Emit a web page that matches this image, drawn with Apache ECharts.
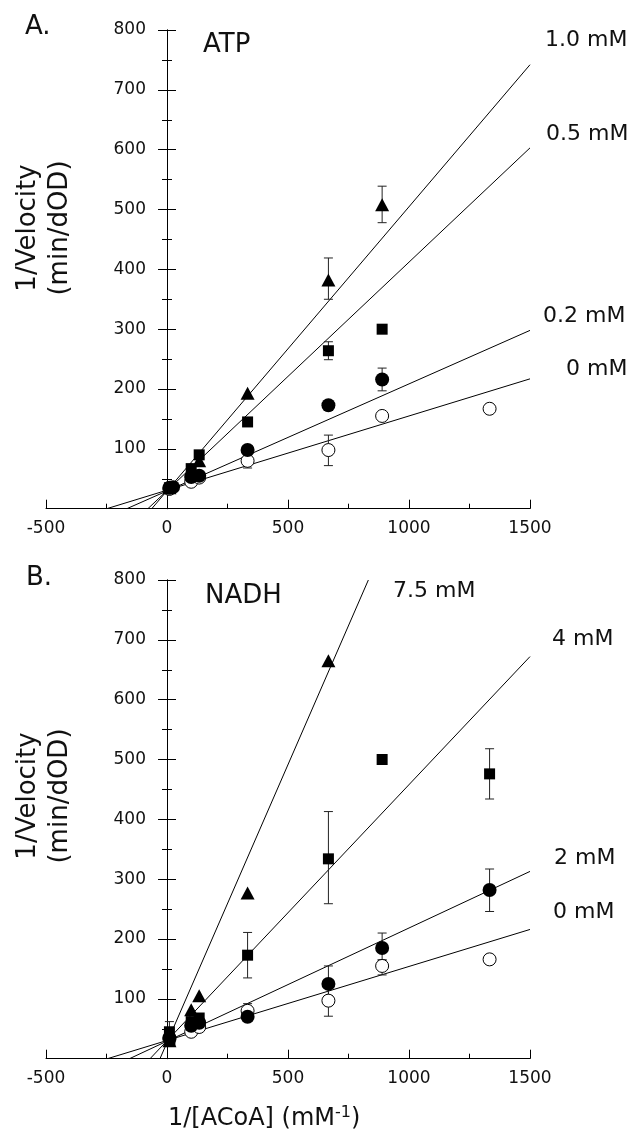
<!DOCTYPE html>
<html>
<head>
<meta charset="utf-8">
<script src="https://cdn.jsdelivr.net/npm/echarts@6/dist/echarts.min.js"></script>
<style>
html,body{margin:0;padding:0;background:#fff;}
#chart{width:644px;height:1143px;}
</style>
</head>
<body>
<div id="chart"></div>
<script>
// ---------- tick labels ----------
const xTickValues = [-500, 0, 500, 1000, 1500];
const yTickValues = [0, 100, 200, 300, 400, 500, 600, 700, 800];

// ---------- Panel A (ATP) : [1/[ACoA], 1/Velocity] ----------
const atp0   = [[10,33],[100,45],[133,52],[333,80],[667,98],[889,155],[1333,167]];
const atp02  = [[10,35],[25,36],[100,53],[133,55],[333,98],[667,173],[889,216]];
const atp05  = [[10,35],[100,67],[133,90],[333,145],[667,264],[889,300]];
const atp10  = [[10,35],[100,65],[133,80],[333,193],[667,382],[889,508]];
// error bars [x, low, high]
const atpErr = [[333,68,90],[667,72,123],[667,165,180],[889,197,235],[667,249,279],[667,350,419],[889,478,539]];
// fitted lines [x, y] endpoints
const atpFit0  = [[-249,0],[1500,217]];
const atpFit02 = [[-166,0],[1500,298]];
const atpFit05 = [[-79,0],[1500,603]];
const atpFit10 = [[-63,0],[1500,742]];
const atpLineLabels = ['1.0 mM', '0.5 mM', '0.2 mM', '0 mM'];

// ---------- Panel B (NADH) ----------
const nadh0  = [[10,33],[100,45],[133,53],[333,80],[667,97],[889,155],[1333,166]];
const nadh2  = [[10,35],[100,55],[133,60],[333,70],[667,125],[889,185],[1333,282]];
const nadh4  = [[10,45],[12,30],[100,62],[133,68],[333,173],[667,334],[889,500],[1333,476]];
const nadh75 = [[10,30],[100,82],[133,105],[333,277],[667,665]];
const nadhErr = [[10,28,62],[1333,434,518],[667,259,413],[333,135,211],[1333,246,317],[889,165,210],[667,105,155],[889,140,165],[667,71,120],[333,70,92]];
const nadhFit0  = [[-246,0],[1500,216]];
const nadhFit2  = [[-155,0],[1500,313]];
const nadhFit4  = [[-70,0],[1500,672]];
const nadhFit75 = [[-29,0],[832,800]];
const nadhLineLabels = ['7.5 mM', '4 mM', '2 mM', '0 mM'];

const panelTitles = ['ATP', 'NADH'];
const panelLetters = ['A.', 'B.'];
const yTitle = '1/Velocity\n(min/dOD)';

// ---------- styling ----------
const FONT = '"DejaVu Sans", sans-serif';
const TXT = '#111';
const PLOT_LEFT = 46, PLOT_W = 484, PLOT_H = 478.7;
const TOPS = [30, 580];
const ZERO_X = PLOT_LEFT + PLOT_W * (0 - xTickValues[0]) / (xTickValues[xTickValues.length - 1] - xTickValues[0]);

// grids 0,1: data panels; grids 2,3: the y axes placed at x = 0
const grids = [
  {left: PLOT_LEFT, width: PLOT_W, top: TOPS[0], height: PLOT_H, outerBoundsMode: 'none', containLabel: false},
  {left: PLOT_LEFT, width: PLOT_W, top: TOPS[1], height: PLOT_H, outerBoundsMode: 'none', containLabel: false},
  {left: ZERO_X, width: 10, top: TOPS[0], height: PLOT_H, outerBoundsMode: 'none', containLabel: false},
  {left: ZERO_X, width: 10, top: TOPS[1], height: PLOT_H, outerBoundsMode: 'none', containLabel: false}
];

function xAx(gi) {
  return {
    type: 'value', gridIndex: gi,
    min: xTickValues[0], max: xTickValues[xTickValues.length - 1],
    interval: xTickValues[1] - xTickValues[0],
    axisLine: {show: true, onZero: false, lineStyle: {color: '#000', width: 1}},
    axisTick: {show: true, inside: true, length: 9, lineStyle: {color: '#000'}},
    minorTick: {show: true, splitNumber: 2, length: 5, lineStyle: {color: '#000'}},
    splitLine: {show: false},
    axisLabel: {color: TXT, fontFamily: FONT, fontSize: 17, margin: 11, formatter: v => String(v)}
  };
}
function xHidden(gi) {
  return {type: 'value', gridIndex: gi, min: 0, max: 1, show: false};
}
function yHidden(gi) {
  return {type: 'value', gridIndex: gi, min: yTickValues[0], max: yTickValues[yTickValues.length - 1], show: false};
}
function yAx(gi, withLabels) {
  return {
    type: 'value', gridIndex: gi, position: 'left', offset: 0,
    min: yTickValues[0], max: yTickValues[yTickValues.length - 1],
    interval: yTickValues[1] - yTickValues[0],
    axisLine: {show: true, onZero: false, lineStyle: {color: '#000', width: 1}},
    axisTick: {show: true, inside: !withLabels, length: 9, lineStyle: {color: '#000'}},
    minorTick: {show: true, splitNumber: 2, length: 5, lineStyle: {color: '#000'}},
    splitLine: {show: false},
    axisLabel: {show: withLabels, color: TXT, fontFamily: FONT, fontSize: 17, margin: 21, showMinLabel: false,
      formatter: v => (v === 0 ? '' : String(v))}
  };
}

function fitLine(data, gi) {
  return {type: 'line', xAxisIndex: gi, yAxisIndex: gi, data: data, showSymbol: false,
    lineStyle: {color: '#000', width: 1}, silent: true, animation: false, z: 2};
}
function errSeries(data, gi) {
  return {
    type: 'custom', xAxisIndex: gi, yAxisIndex: gi, data: data, z: 3, silent: true,
    encode: {x: 0, y: [1, 2]},
    renderItem: function (params, api) {
      const x = api.value(0), lo = api.value(1), hi = api.value(2);
      const p1 = api.coord([x, lo]), p2 = api.coord([x, hi]);
      const w = 4.5;
      const st = {stroke: '#222', lineWidth: 1};
      return {type: 'group', children: [
        {type: 'line', shape: {x1: p1[0], y1: p1[1], x2: p2[0], y2: p2[1]}, style: st},
        {type: 'line', shape: {x1: p1[0] - w, y1: p1[1], x2: p1[0] + w, y2: p1[1]}, style: st},
        {type: 'line', shape: {x1: p2[0] - w, y1: p2[1], x2: p2[0] + w, y2: p2[1]}, style: st}
      ]};
    }
  };
}
function pts(data, gi, kind) {
  const s = {type: 'scatter', xAxisIndex: gi, yAxisIndex: gi, data: data, z: 5, silent: true, animation: false};
  if (kind === 'open') { s.symbol = 'circle'; s.symbolSize = 13; s.itemStyle = {color: '#fff', borderColor: '#000', borderWidth: 1, opacity: 1}; }
  if (kind === 'fill') { s.symbol = 'circle'; s.symbolSize = 14; s.itemStyle = {color: '#000', opacity: 1}; }
  if (kind === 'sq')   { s.symbol = 'rect'; s.symbolSize = 11; s.itemStyle = {color: '#000', opacity: 1}; }
  if (kind === 'tri')  { s.symbol = 'triangle'; s.symbolSize = [14, 13]; s.itemStyle = {color: '#000', opacity: 1}; }
  return s;
}
function txt(text, x, y, size) {
  return {type: 'text', x: x, y: y, silent: true, z: 10,
    style: {text: text, fill: TXT, font: size + 'px ' + FONT, textAlign: 'left', textVerticalAlign: 'middle'}};
}

const graphics = [
  txt(panelLetters[0], 25, 27, 26),
  txt(panelTitles[0], 203, 45, 26),
  txt(panelLetters[1], 26, 578, 26),
  txt(panelTitles[1], 205, 596, 26),
  txt(atpLineLabels[0], 545, 40, 22),
  txt(atpLineLabels[1], 546, 134, 22),
  txt(atpLineLabels[2], 543, 316, 22),
  txt(atpLineLabels[3], 566, 369, 22),
  txt(nadhLineLabels[0], 393, 591, 22),
  txt(nadhLineLabels[1], 552, 639, 22),
  txt(nadhLineLabels[2], 554, 858, 22),
  txt(nadhLineLabels[3], 553, 912, 22),
  {type: 'text', x: 44, y: 228, rotation: Math.PI / 2, silent: true,
    style: {text: yTitle, fill: TXT, font: '26px ' + FONT, textAlign: 'center', textVerticalAlign: 'middle', lineHeight: 32}},
  {type: 'text', x: 44, y: 796, rotation: Math.PI / 2, silent: true,
    style: {text: yTitle, fill: TXT, font: '26px ' + FONT, textAlign: 'center', textVerticalAlign: 'middle', lineHeight: 32}},
  {type: 'text', x: 168, y: 1119, silent: true,
    style: {text: '{m|1/[ACoA] (mM}{s|-1}{m|)}', textAlign: 'left', textVerticalAlign: 'middle',
      rich: {
        m: {fill: TXT, fontFamily: FONT, fontSize: 24, lineHeight: 28},
        s: {fill: TXT, fontFamily: FONT, fontSize: 16, lineHeight: 16, verticalAlign: 'top'}
      }}}
];

const chart = echarts.init(document.getElementById('chart'), null, {renderer: 'canvas'});
chart.setOption({
  animation: false,
  backgroundColor: '#fff',
  grid: grids,
  xAxis: [xAx(0), xAx(1), xHidden(2), xHidden(3)],
  yAxis: [yHidden(0), yHidden(1), yAx(2, true), yAx(3, true), yAx(2, false), yAx(3, false)],
  series: [
    fitLine(atpFit0, 0), fitLine(atpFit02, 0), fitLine(atpFit05, 0), fitLine(atpFit10, 0),
    errSeries(atpErr, 0),
    pts(atp0, 0, 'open'), pts(atp02, 0, 'fill'), pts(atp05, 0, 'sq'), pts(atp10, 0, 'tri'),
    fitLine(nadhFit0, 1), fitLine(nadhFit2, 1), fitLine(nadhFit4, 1), fitLine(nadhFit75, 1),
    errSeries(nadhErr, 1),
    pts(nadh0, 1, 'open'), pts(nadh2, 1, 'fill'), pts(nadh4, 1, 'sq'), pts(nadh75, 1, 'tri')
  ],
  graphic: graphics
});
</script>
</body>
</html>
